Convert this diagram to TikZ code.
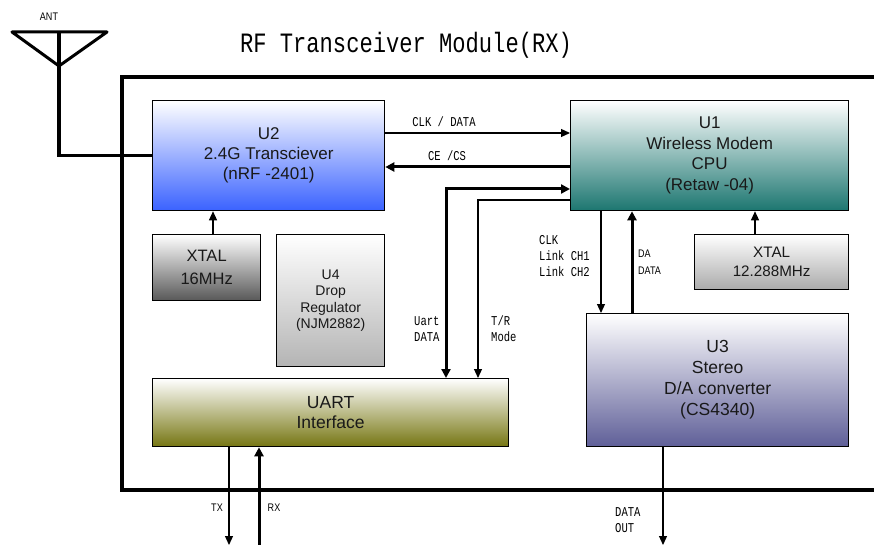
\documentclass[tikz,border=0pt]{standalone}
\usepackage{fontspec}
\setmainfont{Liberation Sans}
\newfontfamily\lmono{Liberation Mono}
\usetikzlibrary{arrows.meta}
\newcommand{\cnd}[1]{\scalebox{0.78}[1]{#1}}
\newcommand{\nrw}[1]{\scalebox{0.82}[1]{#1}}
\definecolor{u2c}{RGB}{58,98,255}
\definecolor{u1c}{RGB}{28,118,112}
\definecolor{u3c}{RGB}{95,95,152}
\definecolor{uartc}{RGB}{118,118,18}
\definecolor{x16c}{RGB}{88,88,88}
\definecolor{x12c}{RGB}{170,170,170}
\definecolor{u4c}{RGB}{180,180,180}
\begin{document}
\begin{tikzpicture}[x=1pt,y=-1pt,
  box/.style={draw=black, line width=1.3pt, anchor=north west, inner sep=0pt,
    align=center, text=black!90, top color=white},
  frame/.style={line width=3.2pt},
  arr/.style={line width=1.2pt, -{Triangle[length=9pt,width=8pt]}},
  tarr/.style={line width=3pt, -{Triangle[length=9pt,width=9pt]}},
  dtarr/.style={line width=3pt, {Triangle[length=9pt,width=9pt]}-{Triangle[length=9pt,width=9pt]}},
  mlbl/.style={font=\lmono\fontsize{13.5}{16}\selectfont, align=left, inner sep=0pt},
  nlbl/.style={font=\fontsize{11}{17}\selectfont, align=left, inner sep=0pt}]
\useasboundingbox (0,0) rectangle (874,545);

% title
\node[font=\lmono\fontsize{28}{30}\selectfont, anchor=base, inner sep=0pt] (title) at (406,53)
  {\scalebox{0.79}[1]{RF Transceiver Module(RX)}};

% module frame
\draw[frame] (874,77) -- (122,77) -- (122,490) -- (874,490);

% boxes
\node[box, minimum width=232pt, minimum height=110pt, bottom color=u2c,
  font=\fontsize{17}{20}\selectfont] (u2) at (152,100)
  {U2\\2.4G Transciever\\(nRF -2401)};
\node[box, minimum width=278pt, minimum height=110pt, bottom color=u1c,
  font=\fontsize{17}{20.5}\selectfont] (u1) at (570,100)
  {U1\\Wireless Modem\\CPU\\(Retaw -04)};
\node[box, minimum width=108pt, minimum height=66pt, bottom color=x16c,
  font=\fontsize{16.5}{23}\selectfont] (x16) at (152,234)
  {XTAL\\16MHz};
\node[box, minimum width=108pt, minimum height=132pt, bottom color=u4c,
  font=\fontsize{14}{16.5}\selectfont] (u4) at (276,234)
  {U4\\Drop\\Regulator\\(NJM2882)};
\node[box, minimum width=154pt, minimum height=55pt, bottom color=x12c,
  font=\fontsize{15.2}{19}\selectfont] (x12) at (694,234)
  {XTAL\\12.288MHz};
\node[box, minimum width=356pt, minimum height=68pt, bottom color=uartc,
  font=\fontsize{17.5}{20}\selectfont] (uart) at (152,378)
  {UART\\Interface};
\node[box, minimum width=262pt, minimum height=133pt, bottom color=u3c,
  font=\fontsize{17.5}{21}\selectfont] (u3) at (586,313)
  {U3\\Stereo\\D/A converter\\(CS4340)};

% antenna
\coordinate (antL) at (12,32);
\coordinate (antR) at (107,32);
\coordinate (antA) at (59,66);
\coordinate (antT) at (59,32);
\draw[line width=3pt, line join=round, line cap=round] (antL) -- (antR) -- (antA) -- cycle;
\draw[frame] (antT) |- (u2.west);
\node[nlbl] (antlbl) at (49,17) {\nrw{ANT}};

% connectors U2 <-> U1
\draw[arr] (u2.east |- 0,133) -- (u1.west |- 0,133);
\draw[tarr] (u1.west |- 0,167) -- (u2.east |- 0,167);
\node[mlbl] (l1) at (444,122) {\cnd{CLK / DATA}};
\node[mlbl] (l2) at (447,156) {\cnd{CE /CS}};

% U1 <-> UART
\draw[dtarr] (446,0 |- uart.north) -- (446,189) -- (u1.west |- 0,189);
\draw[arr] (u1.west |- 0,200) -- (478,200) -- (478,0 |- uart.north);
\node[mlbl, anchor=west] (l3) at (414,329) {\cnd{Uart}\\\cnd{DATA}};
\node[mlbl, anchor=west] (l4) at (491,329) {\cnd{T/R}\\\cnd{Mode}};

% U1 <-> U3
\draw[arr] (601,0 |- u1.south) -- (601,0 |- u3.north);
\draw[tarr] (632,0 |- u3.north) -- (632,0 |- u1.south);
\node[mlbl, anchor=west] (l5) at (539,256) {\cnd{CLK}\\\cnd{Link CH1}\\\cnd{Link CH2}};
\node[nlbl, anchor=west] (l6) at (638,262) {\nrw{DA}\\\nrw{DATA}};

% crystals
\draw[arr] (755,0 |- x12.north) -- (755,0 |- u1.south);
\draw[arr] (213,0 |- x16.north) -- (213,0 |- u2.south);

% outputs
\coordinate (dout) at (663,545);
\coordinate (txo) at (229,545);
\coordinate (rxo) at (259,545);
\draw[arr] (663,0 |- u3.south) -- (dout);
\draw[arr] (229,0 |- uart.south) -- (txo);
\draw[tarr] (rxo) -- (259,0 |- uart.south);
\node[nlbl] (ltx) at (217,508) {\nrw{TX}};
\node[nlbl] (lrx) at (274,508) {\nrw{RX}};
\node[mlbl, anchor=west] (l7) at (615,520) {\cnd{DATA}\\\cnd{OUT}};
\end{tikzpicture}
\end{document}
